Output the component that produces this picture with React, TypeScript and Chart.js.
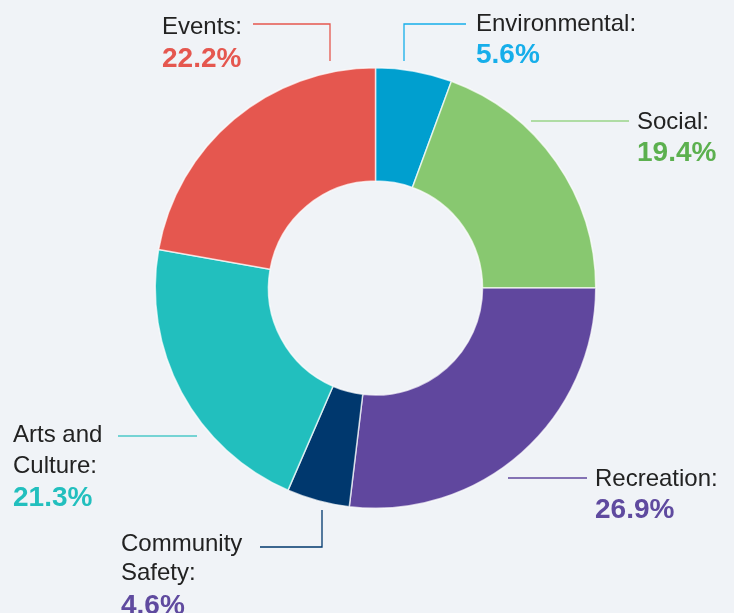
import React, { useEffect, useRef } from "react";
import { Chart, registerables } from "chart.js";

Chart.register(...registerables);

const categories = ["Environmental", "Social", "Recreation", "Community Safety", "Arts and Culture", "Events"];
const values = [5.6, 19.4, 26.9, 4.6, 21.3, 22.2];
const labelLines = [["Environmental:"], ["Social:"], ["Recreation:"], ["Community", "Safety:"], ["Arts and", "Culture:"], ["Events:"]];
const percentLabels = values.map((v) => v.toFixed(1) + "%");

const sliceColors = ["#009fcf", "#88c870", "#60479e", "#00386e", "#22bfbe", "#e5574f"];
const percentColors = ["#16aeea", "#5cb04f", "#5f4a9f", "#5f4a9f", "#22bfbe", "#e5574f"];
const leaderColors = ["#16aeea", "#9ad488", "#60479e", "#00386e", "#4cc9c8", "#e5574f"];

const BG = "#f0f3f7";

// annotation layout (text positions and leader paths)
const annotations = [
  { x: 476, lines: [31], pct: 63, path: [[466, 24], [404, 24], [404, 61]] },
  { x: 637, lines: [129], pct: 161, path: [[629, 121], [531, 121]] },
  { x: 595, lines: [486], pct: 518, path: [[587, 478], [508, 478]] },
  { x: 121, lines: [551, 580], pct: 614, path: [[260, 547], [322, 547], [322, 510]] },
  { x: 13, lines: [442, 473], pct: 506, path: [[118, 436], [197, 436]] },
  { x: 162, lines: [34], pct: 67, path: [[253, 24], [330, 24], [330, 61]] },
];

const labelPlugin = {
  id: "leaderLabels",
  beforeDraw(chart: any) {
    const ctx = chart.ctx;
    ctx.save();
    ctx.fillStyle = BG;
    ctx.fillRect(0, 0, chart.width, chart.height);
    ctx.restore();
  },
  afterDraw(chart: any) {
    const ctx = chart.ctx;
    ctx.save();
    annotations.forEach((a, i) => {
      ctx.strokeStyle = leaderColors[i];
      ctx.lineWidth = 1.3;
      ctx.beginPath();
      a.path.forEach((p, j) => {
        if (j === 0) ctx.moveTo(p[0], p[1]);
        else ctx.lineTo(p[0], p[1]);
      });
      ctx.stroke();
      ctx.textAlign = "left";
      ctx.textBaseline = "alphabetic";
      ctx.fillStyle = "#222222";
      ctx.font = "400 24px 'Liberation Sans', Arial, sans-serif";
      labelLines[i].forEach((t, k) => ctx.fillText(t, a.x, a.lines[k]));
      ctx.fillStyle = percentColors[i];
      ctx.font = "700 28px 'Liberation Sans', Arial, sans-serif";
      ctx.fillText(percentLabels[i], a.x, a.pct);
    });
    ctx.restore();
  },
};

export default function App() {
  const ref = useRef<HTMLCanvasElement | null>(null);
  useEffect(() => {
    document.body.style.margin = "0";
    document.body.style.background = BG;
    const chart = new Chart(ref.current as HTMLCanvasElement, {
      type: "doughnut",
      data: {
        labels: categories,
        datasets: [
          {
            data: values,
            backgroundColor: sliceColors,
            borderColor: "rgba(255,255,255,0.7)",
            borderWidth: 1.5,
          },
        ],
      },
      options: {
        responsive: false,
        animation: false,
        cutout: "48.6%",
        layout: { padding: { left: 154.5, right: 137.5, top: 67, bottom: 104 } },
        plugins: { legend: { display: false }, tooltip: { enabled: false } },
      },
      plugins: [labelPlugin],
    });
    return () => chart.destroy();
  }, []);
  return (
    <div style={{ width: 734, height: 613, background: BG }}>
      <canvas ref={ref} width={734} height={613} style={{ display: "block" }} />
    </div>
  );
}
